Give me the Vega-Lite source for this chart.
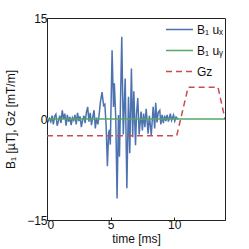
{
  "$schema": "https://vega.github.io/schema/vega-lite/v6.json",
  "width": 178,
  "height": 202,
  "autosize": {"type": "none"},
  "padding": {"left": 47, "top": 18, "right": 24, "bottom": 29},
  "background": "white",
  "config": {
    "font": "Liberation Sans",
    "view": {"stroke": "#222", "strokeWidth": 1},
    "axis": {"grid": false, "domainColor": "#222", "tickColor": "#222", "labelColor": "#111", "titleColor": "#111", "labelFontSize": 12, "titleFontSize": 12, "titleFontWeight": "normal"}
  },
  "data": {
    "values": [
      {"t": 0.0, "v": 0.2, "s": "B1ux"}, {"t": 0.1, "v": -0.3, "s": "B1ux"}, {"t": 0.2, "v": 0.1, "s": "B1ux"},
      {"t": 0.3, "v": -0.4, "s": "B1ux"}, {"t": 0.4, "v": 0.5, "s": "B1ux"}, {"t": 0.5, "v": -0.8, "s": "B1ux"},
      {"t": 0.6, "v": 0.4, "s": "B1ux"}, {"t": 0.7, "v": 0.7, "s": "B1ux"}, {"t": 0.8, "v": -1.0, "s": "B1ux"},
      {"t": 0.9, "v": -0.3, "s": "B1ux"}, {"t": 1.0, "v": 0.5, "s": "B1ux"}, {"t": 1.1, "v": -0.6, "s": "B1ux"},
      {"t": 1.2, "v": 1.3, "s": "B1ux"}, {"t": 1.3, "v": 0.0, "s": "B1ux"}, {"t": 1.4, "v": 0.8, "s": "B1ux"},
      {"t": 1.5, "v": -1.0, "s": "B1ux"}, {"t": 1.6, "v": 0.6, "s": "B1ux"}, {"t": 1.7, "v": -0.4, "s": "B1ux"},
      {"t": 1.8, "v": 0.3, "s": "B1ux"}, {"t": 1.9, "v": -0.9, "s": "B1ux"}, {"t": 2.0, "v": 0.2, "s": "B1ux"},
      {"t": 2.1, "v": -0.2, "s": "B1ux"}, {"t": 2.2, "v": 0.6, "s": "B1ux"}, {"t": 2.3, "v": -0.8, "s": "B1ux"},
      {"t": 2.4, "v": 0.9, "s": "B1ux"}, {"t": 2.5, "v": -0.3, "s": "B1ux"}, {"t": 2.6, "v": 0.4, "s": "B1ux"},
      {"t": 2.7, "v": -1.2, "s": "B1ux"}, {"t": 2.8, "v": -0.2, "s": "B1ux"}, {"t": 2.9, "v": 0.5, "s": "B1ux"},
      {"t": 3.0, "v": -0.6, "s": "B1ux"}, {"t": 3.1, "v": 1.0, "s": "B1ux"}, {"t": 3.2, "v": 1.8, "s": "B1ux"},
      {"t": 3.3, "v": -0.4, "s": "B1ux"}, {"t": 3.4, "v": 0.9, "s": "B1ux"}, {"t": 3.5, "v": -0.9, "s": "B1ux"},
      {"t": 3.6, "v": 0.3, "s": "B1ux"}, {"t": 3.7, "v": 1.3, "s": "B1ux"}, {"t": 3.8, "v": -1.4, "s": "B1ux"},
      {"t": 3.9, "v": 0.2, "s": "B1ux"}, {"t": 4.0, "v": -0.8, "s": "B1ux"}, {"t": 4.1, "v": 0.6, "s": "B1ux"},
      {"t": 4.2, "v": 2.5, "s": "B1ux"}, {"t": 4.33, "v": 4.0, "s": "B1ux"}, {"t": 4.45, "v": 2.0, "s": "B1ux"},
      {"t": 4.55, "v": 2.2, "s": "B1ux"}, {"t": 4.65, "v": -1.0, "s": "B1ux"}, {"t": 4.75, "v": -7.0, "s": "B1ux"},
      {"t": 4.85, "v": -2.0, "s": "B1ux"}, {"t": 4.91, "v": -1.6, "s": "B1ux"}, {"t": 4.98, "v": -3.8, "s": "B1ux"},
      {"t": 5.12, "v": 10.2, "s": "B1ux"}, {"t": 5.23, "v": 1.8, "s": "B1ux"}, {"t": 5.3, "v": 5.3, "s": "B1ux"},
      {"t": 5.41, "v": 0.0, "s": "B1ux"}, {"t": 5.51, "v": -11.8, "s": "B1ux"}, {"t": 5.62, "v": 0.6, "s": "B1ux"},
      {"t": 5.7, "v": -5.6, "s": "B1ux"}, {"t": 5.88, "v": 12.2, "s": "B1ux"}, {"t": 6.0, "v": -2.3, "s": "B1ux"},
      {"t": 6.15, "v": 6.0, "s": "B1ux"}, {"t": 6.28, "v": -10.3, "s": "B1ux"}, {"t": 6.41, "v": 3.3, "s": "B1ux"},
      {"t": 6.51, "v": -5.1, "s": "B1ux"}, {"t": 6.64, "v": 7.5, "s": "B1ux"}, {"t": 6.74, "v": -2.7, "s": "B1ux"},
      {"t": 6.83, "v": 4.1, "s": "B1ux"}, {"t": 6.96, "v": -3.9, "s": "B1ux"}, {"t": 7.05, "v": 1.0, "s": "B1ux"},
      {"t": 7.14, "v": 3.1, "s": "B1ux"}, {"t": 7.25, "v": -2.3, "s": "B1ux"}, {"t": 7.4, "v": 1.1, "s": "B1ux"},
      {"t": 7.5, "v": -1.7, "s": "B1ux"}, {"t": 7.6, "v": 0.8, "s": "B1ux"}, {"t": 7.7, "v": -1.2, "s": "B1ux"},
      {"t": 7.8, "v": 1.5, "s": "B1ux"}, {"t": 7.95, "v": -2.2, "s": "B1ux"}, {"t": 8.05, "v": 0.5, "s": "B1ux"},
      {"t": 8.12, "v": -0.8, "s": "B1ux"}, {"t": 8.2, "v": -2.4, "s": "B1ux"}, {"t": 8.35, "v": 1.8, "s": "B1ux"},
      {"t": 8.47, "v": -1.4, "s": "B1ux"}, {"t": 8.55, "v": 2.4, "s": "B1ux"}, {"t": 8.65, "v": -0.5, "s": "B1ux"},
      {"t": 8.75, "v": 1.0, "s": "B1ux"}, {"t": 8.87, "v": 1.3, "s": "B1ux"}, {"t": 8.95, "v": -0.8, "s": "B1ux"},
      {"t": 9.05, "v": 0.6, "s": "B1ux"}, {"t": 9.15, "v": -0.6, "s": "B1ux"}, {"t": 9.25, "v": 0.5, "s": "B1ux"},
      {"t": 9.35, "v": -0.3, "s": "B1ux"}, {"t": 9.45, "v": 0.6, "s": "B1ux"}, {"t": 9.55, "v": -0.4, "s": "B1ux"},
      {"t": 9.7, "v": 0.8, "s": "B1ux"}, {"t": 9.8, "v": -0.2, "s": "B1ux"}, {"t": 9.95, "v": 0.6, "s": "B1ux"},
      {"t": 10.05, "v": -0.3, "s": "B1ux"}, {"t": 10.15, "v": 0.3, "s": "B1ux"}, {"t": 10.3, "v": 0.0, "s": "B1ux"},
      {"t": 0.0, "v": 0.0, "s": "B1uy"}, {"t": 14.0, "v": 0.0, "s": "B1uy"},
      {"t": 0.0, "v": -2.5, "s": "Gz"}, {"t": 10.2, "v": -2.5, "s": "Gz"}, {"t": 11.1, "v": 4.7, "s": "Gz"},
      {"t": 13.45, "v": 4.7, "s": "Gz"}, {"t": 14.0, "v": 0.0, "s": "Gz"}
    ]
  },
  "mark": {"type": "line", "strokeWidth": 1.5, "clip": true},
  "encoding": {
    "x": {"field": "t", "type": "quantitative", "scale": {"domain": [0, 14], "nice": false, "zero": false},
      "axis": {"values": [0, 5, 10], "title": "time [ms]", "tickSize": -3, "labelPadding": 2, "titlePadding": 3}},
    "y": {"field": "v", "type": "quantitative", "scale": {"domain": [-15, 15], "nice": false},
      "axis": {"values": [-15, 0, 15], "title": "B₁ [µT], Gz [mT/m]", "tickSize": -3, "labelPadding": 3, "titlePadding": 9}},
    "color": {"field": "s", "type": "nominal",
      "scale": {"domain": ["B1ux", "B1uy", "Gz"], "range": ["#4C72B0", "#55A868", "#C44E52"]},
      "legend": {"orient": "none", "legendX": 118, "legendY": -3, "title": null, "symbolType": "stroke", "symbolSize": 729,
        "symbolStrokeWidth": 1.5, "labelFontSize": 12, "labelColor": "#111", "rowPadding": -5.5, "padding": 0,
        "labelOffset": 3,
        "labelExpr": "datum.value == 'B1ux' ? 'B₁ uₓ' : datum.value == 'B1uy' ? 'B₁ uᵧ' : 'Gz'"}},
    "strokeDash": {"field": "s", "type": "nominal",
      "scale": {"domain": ["B1ux", "B1uy", "Gz"], "range": [[1, 0], [1, 0], [6, 4]]},
      "legend": {"orient": "none", "legendX": 118, "legendY": -3, "title": null, "symbolType": "stroke", "symbolSize": 729,
        "symbolStrokeWidth": 1.5, "labelFontSize": 12, "labelColor": "#111", "rowPadding": -5.5, "padding": 0,
        "labelOffset": 3,
        "labelExpr": "datum.value == 'B1ux' ? 'B₁ uₓ' : datum.value == 'B1uy' ? 'B₁ uᵧ' : 'Gz'"}}
  }
}
